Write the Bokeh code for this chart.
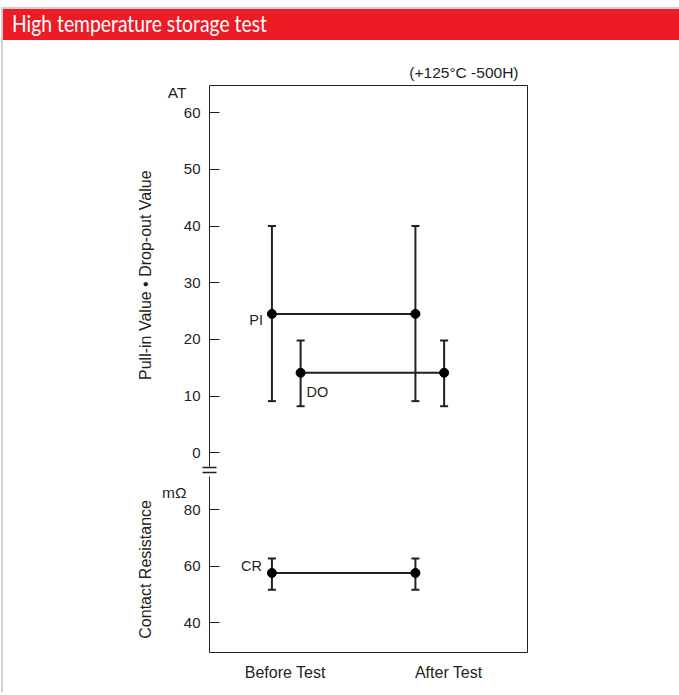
from bokeh.plotting import figure
from bokeh.models import (Range1d, FixedTicker, Whisker, TeeHead, ColumnDataSource,
                          LinearAxis, Div)
from bokeh.layouts import column
from bokeh.embed import file_html
from bokeh.resources import INLINE
from bokeh.core.properties import value

# ---------------- data ----------------
title_text = "High temperature storage test"
condition_text = "(+125°C -500H)"
categories = ["Before Test", "After Test"]

# Pull-in value (AT)
pi_mean = [24.5, 24.5]
pi_max = [40.0, 40.0]
pi_min = [9.1, 9.1]
# Drop-out value (AT)
do_mean = [14.1, 14.1]
do_max = [19.8, 19.8]
do_min = [8.2, 8.2]
# Contact resistance (mOhm)
cr_mean = [57.6, 57.6]
cr_max = [62.7, 62.7]
cr_min = [51.6, 51.6]

at_ticks = [0, 10, 20, 30, 40, 50, 60]
mohm_ticks = [40, 60, 80]
series_names = ["PI", "DO", "CR"]
at_unit = "AT"
mohm_unit = "mΩ"
at_axis_title = "Pull-in Value • Drop-out Value"
mohm_axis_title = "Contact Resistance"

# ---------------- style ----------------
INK = "#231f20"
RED = "#ED1C24"
FONT = "Liberation Sans"
NB = "\u00a0"

# ---------------- header ----------------
header = Div(
    text=('<span style="display:inline-block; margin-left:9px; transform:scaleX(0.84); '
          'transform-origin:left center;">' + title_text + '</span>'),
    width=676, height=31, margin=0,
    styles={"background-color": RED, "color": "white", "font-family": "Lato",
            "font-size": "23px", "line-height": "28px", "white-space": "nowrap",
            "overflow": "hidden"})

# ---------------- main chart ----------------
at_range = Range1d(-35.29, 64.83)
mo_range = Range1d(29.35, 230.7)
x_range = Range1d(-0.435, 1.781)

p = figure(frame_width=318, frame_height=567, x_range=x_range, y_range=at_range,
           output_backend="svg", toolbar_location=None, margin=0,
           min_border_left=206, min_border_right=152, min_border_top=45, min_border_bottom=40,
           outline_line_color=None,
           background_fill_color="white", border_fill_color="white")
p.extra_y_ranges = {"mohm": mo_range}
p.grid.visible = False
yax = p.left[0]
xax = p.below[0]


def to_at(v):
    return at_range.start + (v - mo_range.start) / (mo_range.end - mo_range.start) * (at_range.end - at_range.start)


# primary left axis: AT ticks and mOhm ticks on one line, with a break mark
yticks = [float(t) for t in at_ticks] + [round(to_at(v), 6) for v in mohm_ticks]
overrides = {float(t): str(t) for t in at_ticks}
overrides.update({round(to_at(v), 6): str(v) for v in mohm_ticks})
break_marks = [-2.7, -3.58]

yax.ticker = FixedTicker(ticks=yticks, minor_ticks=break_marks)
yax.major_label_overrides = overrides
yax.major_tick_in = 10
yax.major_tick_out = 0
yax.minor_tick_in = 7
yax.minor_tick_out = 7
yax.minor_tick_line_color = INK
yax.minor_tick_line_width = 1.3
yax.axis_line_color = INK
yax.axis_line_dash = "176 10 600"
yax.major_tick_line_color = INK
yax.major_label_text_font = FONT
yax.major_label_text_font_size = "15px"
yax.major_label_text_color = INK
yax.major_label_standoff = 2

cat_x = list(range(len(categories)))
xlabel_shift = [0.093, 0.232]
xticks = [c + s for c, s in zip(cat_x, xlabel_shift)]
xax.ticker = FixedTicker(ticks=xticks)
xax.major_label_overrides = {t: c for t, c in zip(xticks, categories)}
xax.major_tick_in = 0
xax.major_tick_out = 0
xax.major_tick_line_color = None
xax.minor_tick_line_color = None
xax.axis_line_color = INK
xax.major_label_text_font = FONT
xax.major_label_text_font_size = "16px"
xax.major_label_text_color = INK
xax.major_label_standoff = 11

# outer left axis: units + axis titles
unit_pos = [63.65, round(to_at(86.0), 6)]
ax2 = LinearAxis(ticker=FixedTicker(ticks=unit_pos),
                 major_label_overrides={unit_pos[0]: at_unit, unit_pos[1]: mohm_unit},
                 axis_line_color=None, major_tick_line_color=None, minor_tick_line_color=None,
                 major_tick_in=0, major_tick_out=0,
                 major_label_text_font=FONT, major_label_text_font_size="15.5px",
                 major_label_text_color=INK, major_label_standoff=-6,
                 axis_label=mohm_axis_title + NB * 27 + at_axis_title + NB * 16,
                 axis_label_text_font=FONT, axis_label_text_font_size="16px",
                 axis_label_text_font_style="normal", axis_label_text_color=INK,
                 axis_label_standoff=5)
p.add_layout(ax2, "left")

# box sides
for side in ("above", "right"):
    p.add_layout(LinearAxis(ticker=FixedTicker(ticks=[]), axis_line_color=INK,
                            major_tick_line_color=None, minor_tick_line_color=None,
                            major_tick_in=0, major_tick_out=0, major_label_standoff=0,
                            major_label_text_font_size="0px"), side)

# condition note above the frame
p.title.text = condition_text
p.title.align = "right"
p.title.offset = 9
p.title.text_font = FONT
p.title.text_font_size = "15.5px"
p.title.text_font_style = "normal"
p.title.text_color = INK
p.title.standoff = 10

series = [
    ("PI", pi_mean, pi_min, pi_max, 0.0, None, dict(text_align="right", x_offset=-9, y_offset=6)),
    ("DO", do_mean, do_min, do_max, 0.2, None, dict(text_align="left", x_offset=6, y_offset=19)),
    ("CR", cr_mean, cr_min, cr_max, 0.0, "mohm", dict(text_align="right", x_offset=-10, y_offset=-7)),
]

for name, mean, lo, hi, dx, yr, lab in series:
    xs = [c + dx for c in cat_x]
    src = ColumnDataSource(dict(x=xs, y=mean, lo=lo, hi=hi))
    kw = {} if yr is None else {"y_range_name": yr}
    p.add_layout(Whisker(source=src, base="x", upper="hi", lower="lo", dimension="height",
                         line_color=INK, line_width=2,
                         upper_head=TeeHead(size=8, line_color=INK, line_width=2),
                         lower_head=TeeHead(size=8, line_color=INK, line_width=2), **kw))
    p.line("x", "y", source=src, line_color=INK, line_width=2, **kw)
    p.scatter("x", "y", source=src, size=9, fill_color="black", line_color="black", **kw)
    p.text(x=[xs[0]], y=[mean[0]], text=[name], text_font=value(FONT), text_font_size="14.5px",
           text_color=INK, text_baseline="middle", **lab, **kw)

layout = column(header, p, spacing=0, margin=(7, 0, 0, 1),
                styles={"border-left": "2px solid #cfcfcf", "border-top": "2px solid #cfcfcf"})
open("out.html", "w").write(file_html(layout, INLINE))
